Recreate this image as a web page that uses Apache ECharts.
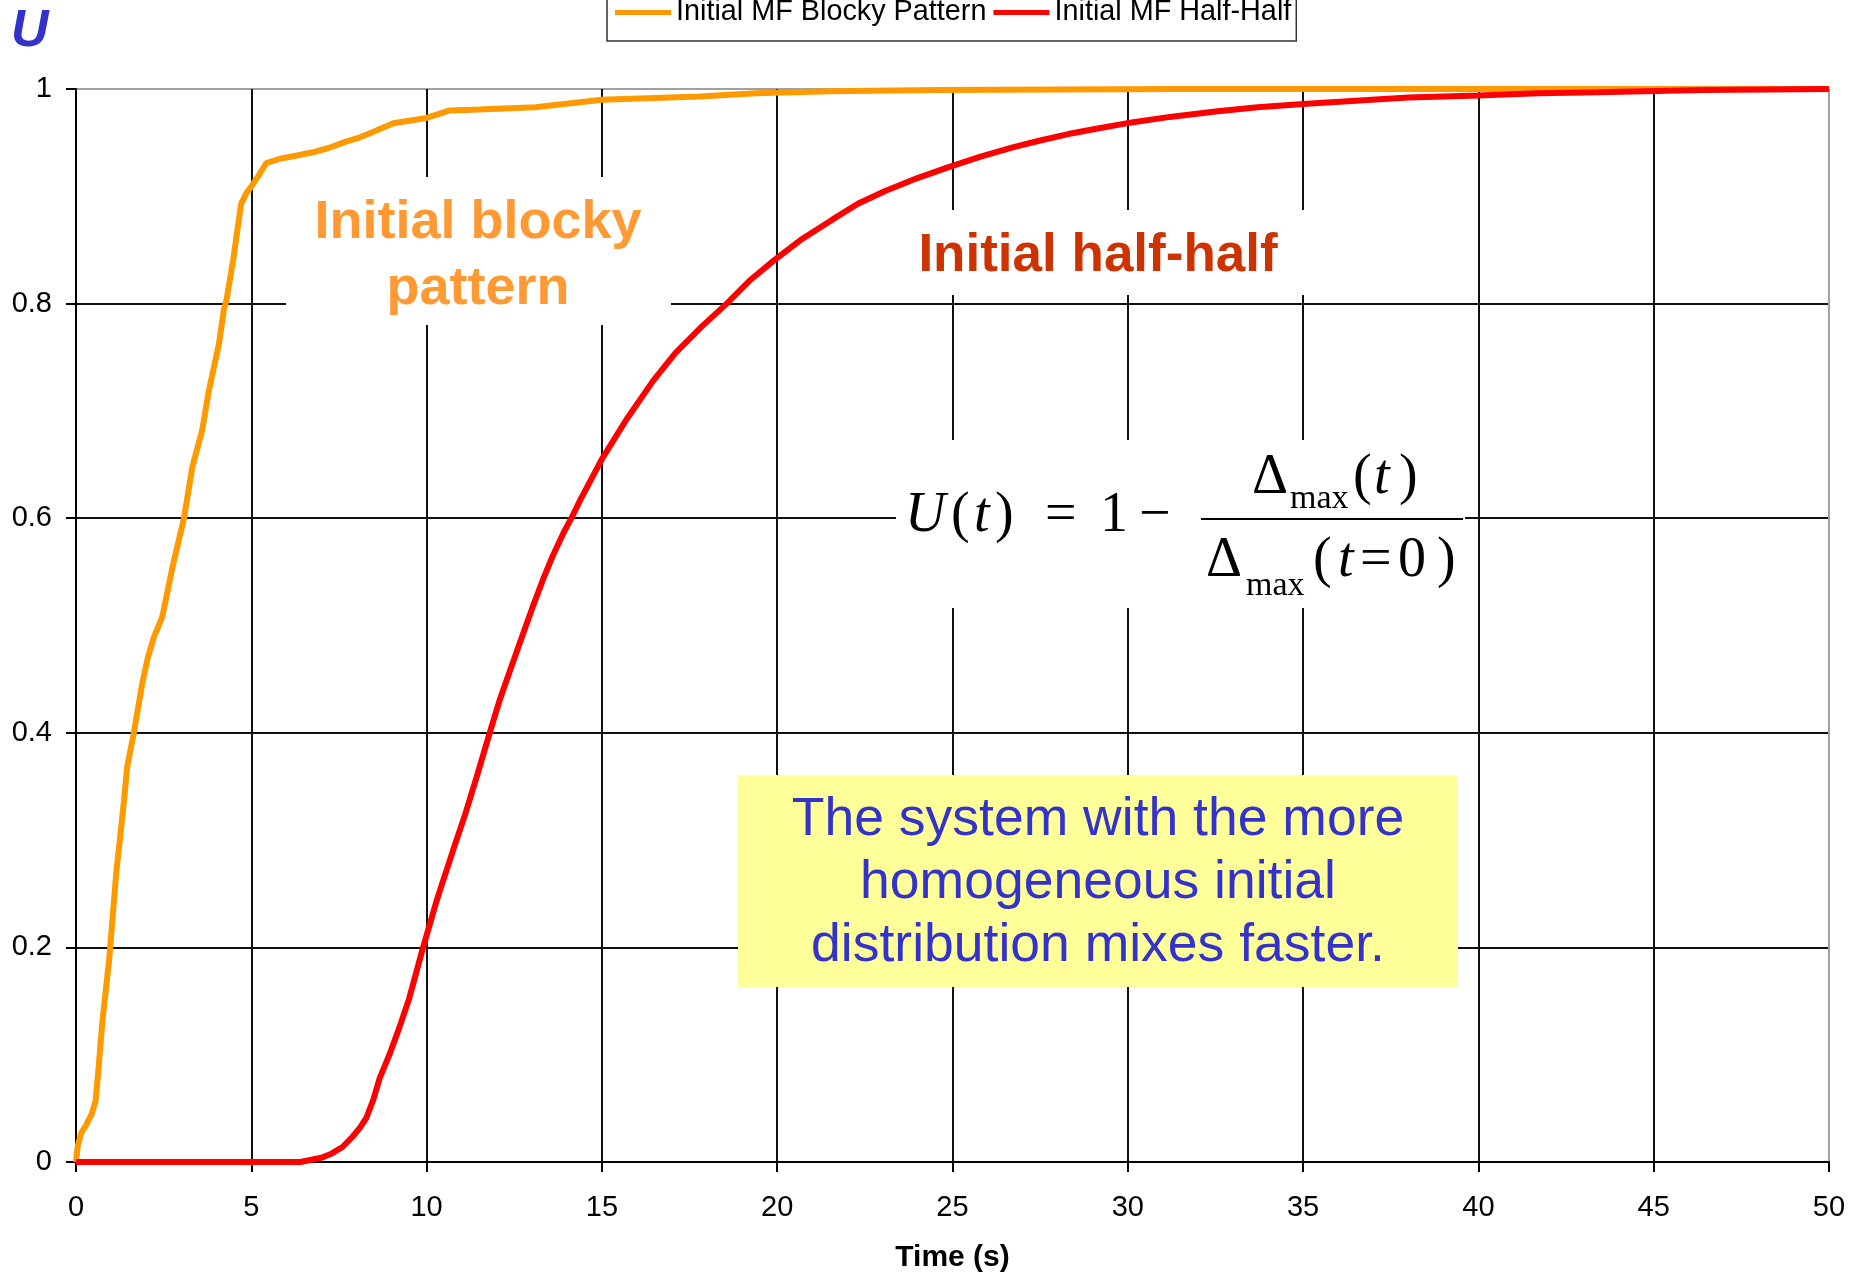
<!DOCTYPE html>
<html>
<head>
<meta charset="utf-8">
<script src="https://cdn.jsdelivr.net/npm/echarts@6/dist/echarts.min.js"></script>
<style>
html,body{margin:0;padding:0;background:#fff;}
#chart{width:1868px;height:1275px;}
</style>
</head>
<body>
<div id="chart"></div>
<script>
// ---- Data ----
const seriesNames = ['Initial MF Blocky Pattern', 'Initial MF Half-Half'];
const xTicks = [0, 5, 10, 15, 20, 25, 30, 35, 40, 45, 50];
const yTicks = [0, 0.2, 0.4, 0.6, 0.8, 1];

const tBlocky = [0, 0.05, 0.15, 0.3, 0.45, 0.56, 0.65, 0.75, 0.85, 0.95, 1.05, 1.15, 1.25, 1.37, 1.46, 1.65, 1.89, 2.05, 2.22, 2.46, 2.75, 3.08, 3.32, 3.6, 3.79, 4.08, 4.22, 4.29, 4.48, 4.71, 4.86, 5.0, 5.24, 5.43, 5.81, 6.3, 6.76, 7.2, 7.7, 8.1, 8.47, 9.05, 10.0, 10.66, 11.5, 13.1, 15.0, 17.8, 19.4, 21.5, 24.6, 31.4, 50];
const uBlocky = [0, 0.015, 0.027, 0.035, 0.045, 0.057, 0.09, 0.13, 0.16, 0.19, 0.23, 0.27, 0.30, 0.337, 0.368, 0.40, 0.446, 0.47, 0.489, 0.508, 0.554, 0.60, 0.648, 0.682, 0.719, 0.763, 0.795, 0.803, 0.84, 0.893, 0.903, 0.909, 0.921, 0.931, 0.935, 0.938, 0.941, 0.945, 0.951, 0.955, 0.96, 0.968, 0.973, 0.98, 0.981, 0.983, 0.99, 0.993, 0.996, 0.998, 0.999, 1.0, 1.0];

const tHalf = [0, 6.4, 7.0, 7.3, 7.6, 7.9, 8.1, 8.28, 8.48, 8.66, 8.94, 9.22, 9.5, 9.9, 10.3, 10.75, 11.1, 11.42, 11.8, 12.08, 12.4, 12.65, 13.0, 13.31, 13.6, 13.93, 14.16, 14.4, 15.0, 15.7, 16.46, 17.1, 17.86, 18.56, 19.2, 19.9, 20.7, 21.56, 22.3, 23.08, 24.0, 24.87, 25.8, 26.77, 27.5, 28.3, 29.1, 29.96, 31.2, 32.5, 33.7, 35, 36.5, 38, 40, 41.7, 43.4, 46.4, 50];
const uHalf = [0, 0, 0.004, 0.008, 0.014, 0.024, 0.032, 0.041, 0.058, 0.078, 0.10, 0.125, 0.152, 0.2, 0.245, 0.29, 0.324, 0.358, 0.40, 0.43, 0.46, 0.483, 0.515, 0.542, 0.565, 0.588, 0.602, 0.618, 0.655, 0.692, 0.728, 0.754, 0.779, 0.80, 0.821, 0.84, 0.86, 0.878, 0.893, 0.905, 0.917, 0.927, 0.937, 0.946, 0.952, 0.958, 0.963, 0.968, 0.974, 0.979, 0.983, 0.986, 0.989, 0.992, 0.994, 0.996, 0.997, 0.999, 1.0];

const zip = (xs, ys) => xs.map((x, i) => [x, ys[i]]);

const SANS = '"Liberation Sans", Arial, sans-serif';
const SERIF = '"Liberation Serif", "Times New Roman", serif';

function txt(text, x, y, font, fill, align) {
  return {
    type: 'text', x: x, y: y, z: 5, zlevel: 0,
    style: {
      text: text, font: font, fill: fill,
      align: align || 'left', textAlign: align || 'left',
      verticalAlign: 'middle', textVerticalAlign: 'middle'
    }
  };
}
function box(x, y, w, h, fill) {
  return { type: 'rect', z: 1, zlevel: 0, shape: { x: x, y: y, width: w, height: h }, style: { fill: fill } };
}

const F56 = '56px ' + SERIF;
const F56I = 'italic 56px ' + SERIF;
const F34 = '34px ' + SERIF;

const graphics = [
  // Axis title "U"
  txt('U', 11, 32, 'italic bold 52px ' + SANS, '#3333cc', 'left'),
  // Initial blocky pattern label
  box(286, 177, 385, 148, '#ffffff'),
  txt('Initial blocky', 478, 223, 'bold 54px ' + SANS, '#ff9933', 'center'),
  txt('pattern', 478, 289, 'bold 54px ' + SANS, '#ff9933', 'center'),
  // Initial half-half label
  box(900, 210, 410, 85, '#ffffff'),
  txt('Initial half-half', 1098, 256, 'bold 53px ' + SANS, '#cc3300', 'center'),
  // Formula
  box(896, 440, 569, 168, '#ffffff'),
  txt('U', 905, 516, F56I, '#000', 'left'),
  txt('(', 951, 516, F56, '#000', 'left'),
  txt('t', 974, 516, F56I, '#000', 'left'),
  txt(')', 995, 516, F56, '#000', 'left'),
  txt('=', 1045, 516, F56, '#000', 'left'),
  txt('1', 1100, 516, F56, '#000', 'left'),
  txt('\u2212', 1139, 516, F56, '#000', 'left'),
  txt('\u0394', 1252, 478, F56, '#000', 'left'),
  txt('max', 1290, 499, F34, '#000', 'left'),
  txt('(', 1353, 478, F56, '#000', 'left'),
  txt('t', 1374, 478, F56I, '#000', 'left'),
  txt(')', 1399, 478, F56, '#000', 'left'),
  { type: 'line', z: 5, shape: { x1: 1201, y1: 519, x2: 1463, y2: 519 }, style: { stroke: '#000', lineWidth: 2 } },
  txt('\u0394', 1206, 561, F56, '#000', 'left'),
  txt('max', 1246, 586, F34, '#000', 'left'),
  txt('(', 1313, 561, F56, '#000', 'left'),
  txt('t', 1338, 561, F56I, '#000', 'left'),
  txt('=', 1360, 561, F56, '#000', 'left'),
  txt('0', 1398, 561, F56, '#000', 'left'),
  txt(')', 1437, 561, F56, '#000', 'left'),
  // Yellow note
  box(738, 775, 720, 212, '#ffff99'),
  txt('The system with the more', 1098, 820, '53.5px ' + SANS, '#3333cc', 'center'),
  txt('homogeneous initial', 1098, 883, '53.5px ' + SANS, '#3333cc', 'center'),
  txt('distribution mixes faster.', 1098, 946, '53.5px ' + SANS, '#3333cc', 'center')
];

const ySplitColors = yTicks.map((v, i) => i === yTicks.length - 1 ? '#a0a0a0' : '#111');
const xSplitColors = xTicks.map((v, i) => i === xTicks.length - 1 ? '#a0a0a0' : '#111');

const chart = echarts.init(document.getElementById('chart'), null, { renderer: 'canvas' });
chart.setOption({
  animation: false,
  backgroundColor: '#ffffff',
  textStyle: { fontFamily: SANS },
  grid: { left: 76, right: 39, top: 89, bottom: 113, containLabel: false, outerBoundsMode: 'none' },
  legend: {
    data: seriesNames,
    icon: 'rect',
    left: 607, top: -10,
    padding: [8, 5, 14, 8],
    itemWidth: 56, itemHeight: 5, itemGap: 7,
    borderColor: '#333', borderWidth: 1.5, backgroundColor: '#fff',
    textStyle: { fontSize: 28.8, color: '#000', fontFamily: SANS }
  },
  xAxis: {
    type: 'value', min: xTicks[0], max: xTicks[xTicks.length - 1], interval: 5,
    name: 'Time (s)', nameLocation: 'middle', nameGap: 81,
    nameTextStyle: { fontSize: 30, fontWeight: 'bold', color: '#000', fontFamily: SANS },
    axisLine: { show: true, onZero: false, lineStyle: { color: '#000', width: 2 } },
    axisTick: { show: true, inside: false, length: 10, lineStyle: { color: '#000', width: 2 } },
    axisLabel: { fontSize: 29, color: '#000', margin: 31, fontFamily: SANS },
    splitLine: { show: true, lineStyle: { color: xSplitColors, width: 2 } }
  },
  yAxis: {
    type: 'value', min: yTicks[0], max: yTicks[yTicks.length - 1], interval: 0.2,
    axisLine: { show: true, lineStyle: { color: '#000', width: 2 } },
    axisTick: { show: true, inside: false, length: 10, lineStyle: { color: '#000', width: 2 } },
    axisLabel: { fontSize: 29, color: '#000', margin: 24, fontFamily: SANS },
    splitLine: { show: true, lineStyle: { color: ySplitColors, width: 2 } }
  },
  series: [
    {
      name: seriesNames[0], type: 'line', data: zip(tBlocky, uBlocky),
      showSymbol: false, symbol: 'none', smooth: false, z: 3,
      lineStyle: { color: '#ff9900', width: 6 }, itemStyle: { color: '#ff9900' }
    },
    {
      name: seriesNames[1], type: 'line', data: zip(tHalf, uHalf),
      showSymbol: false, symbol: 'none', smooth: false, z: 4,
      lineStyle: { color: '#ff0000', width: 6 }, itemStyle: { color: '#ff0000' }
    }
  ],
  graphic: { elements: graphics }
});
</script>
</body>
</html>
